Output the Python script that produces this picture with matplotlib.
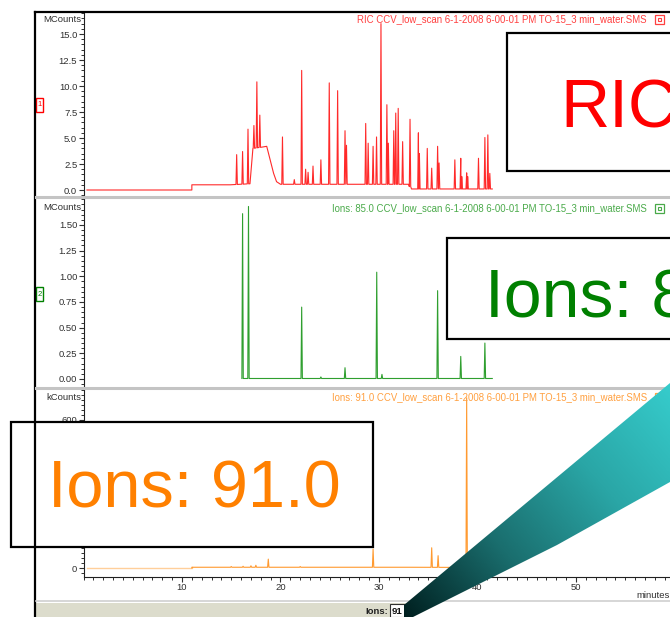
import numpy as np
import matplotlib.pyplot as plt
from matplotlib.patches import Rectangle, Polygon
from matplotlib.ticker import MultipleLocator, FormatStrFormatter
from matplotlib.colors import LinearSegmentedColormap

plt.rcParams['font.family'] = ['Liberation Sans', 'DejaVu Sans']

# ---- data (retention time in minutes) ----
# RIC, MCounts
ric_base_t = [0.35, 11.0, 11.0, 14.9, 16.9, 17.2, 18.6, 19.3, 19.6, 20.0, 33.0, 33.3, 41.5]
ric_base_v = [0.0, 0.0, 0.5, 0.5, 0.6, 4.0, 4.2, 1.6, 0.8, 0.55, 0.55, 0.1, 0.1]
ric_peak_t = [15.55, 16.15, 16.7, 17.3, 17.6, 17.9, 20.2, 21.4, 22.15, 22.55, 22.8, 23.3,
              24.1, 24.95, 25.8, 26.55, 26.7, 28.65, 28.9, 29.4, 29.75, 30.2, 30.8, 30.95,
              31.5, 31.7, 31.95, 32.4, 33.15, 34.0, 34.1, 34.9, 35.35, 35.95, 36.1, 37.7,
              38.3, 38.4, 38.9, 39.0, 40.1, 40.75, 41.05, 41.25]
ric_peak_v = [3.4, 3.7, 5.85, 6.2, 10.4, 7.2, 5.1, 1.0, 11.5, 2.0, 1.7, 2.3,
              2.9, 10.3, 9.55, 5.7, 4.3, 6.4, 4.5, 4.2, 5.1, 16.0, 8.2, 4.5,
              5.7, 7.4, 7.85, 4.65, 6.8, 5.5, 3.5, 4.0, 2.1, 4.2, 2.6, 2.9,
              3.05, 1.3, 1.65, 1.3, 3.05, 5.05, 5.3, 1.6]

# Ion 85, MCounts
ion85_base_t = [0.35, 41.5]
ion85_base_v = [0.005, 0.005]
ion85_peak_t = [16.15, 16.75, 22.15, 24.1, 26.55, 29.77, 30.3, 35.95, 38.3, 40.75]
ion85_peak_v = [1.61, 1.68, 0.70, 0.02, 0.11, 1.04, 0.045, 0.86, 0.22, 0.35]

# Ion 91, kCounts
ion91_base_t = [0.35, 11.0, 11.0, 33.0, 41.5]
ion91_base_v = [0.0, 0.0, 3.0, 3.0, 2.0]
ion91_peak_t = [15.0, 16.2, 17.0, 17.5, 18.76, 22.0, 29.4, 35.35, 36.0, 38.9]
ion91_peak_v = [6, 7, 9, 11, 36, 6, 77, 82, 50, 690]

titles = ["RIC CCV_low_scan 6-1-2008 6-00-01 PM TO-15_3 min_water.SMS",
          "Ions: 85.0 CCV_low_scan 6-1-2008 6-00-01 PM TO-15_3 min_water.SMS",
          "Ions: 91.0 CCV_low_scan 6-1-2008 6-00-01 PM TO-15_3 min_water.SMS"]
ric_ticks = [0, 2.5, 5, 7.5, 10, 12.5, 15]
ion85_ticks = [0, 0.25, 0.5, 0.75, 1.0, 1.25, 1.5]
ion91_ticks = [0, 100, 200, 300, 400, 500, 600]
ion91_labels = ['0', '', '', '', '', '', '600']   # 100-500 sit under the callout box
x_ticks = [10, 20, 30, 40, 50]

W, H = 670, 617
X0, PXMIN = 83.5, 9.85          # x pixel of t=0, pixels per minute
fig = plt.figure(figsize=(W / 100, H / 100), dpi=100)


def trace(bt, bv, pt, pv, hw=0.07):
    t = list(bt)
    v = list(bv)
    for a, h in zip(pt, pv):
        b = np.interp(a, bt, bv)
        t += [a - hw, a, a + hw]
        v += [b, h, b]
    o = np.argsort(t, kind='stable')
    return np.array(t)[o], np.array(v)[o]


def panel(top, bottom, zero_px, px_per_unit, ticks, fmt):
    ax = fig.add_axes([X0 / W, 1 - bottom / H, (W - X0) / W, (bottom - top) / H])
    ax.set_xlim(0, (W - X0) / PXMIN)
    ax.set_ylim((zero_px - bottom) / px_per_unit, (zero_px - top) / px_per_unit)
    for s in ['top', 'right', 'bottom']:
        ax.spines[s].set_visible(False)
    ax.spines['left'].set_color('#202020')
    ax.set_yticks(ticks)
    ax.yaxis.set_major_formatter(FormatStrFormatter(fmt))
    ax.yaxis.set_minor_locator(MultipleLocator(ticks[1] / 5))
    ax.tick_params(axis='y', which='major', length=3.5, width=0.8, labelsize=6.8,
                   colors='#303030', pad=1)
    ax.tick_params(axis='y', which='minor', length=2, width=0.7, colors='#303030')
    ax.tick_params(axis='x', which='both', bottom=False, labelbottom=False)
    return ax


# RIC panel
ax1 = panel(13, 196, 190, 10.4, ric_ticks, '%.1f')
t, v = trace(ric_base_t, ric_base_v, ric_peak_t, ric_peak_v)
ax1.plot(t, v, color='#ff2a2a', lw=0.8)

# Ion 85 panel
ax2 = panel(199, 387, 379, 102.7, ion85_ticks, '%.2f')
t, v = trace(ion85_base_t, ion85_base_v, ion85_peak_t, ion85_peak_v)
ax2.plot(t[t <= 11], v[t <= 11], color='#a8dca8', lw=1.0)
ax2.plot(t[t >= 11], v[t >= 11], color='#2f9f2f', lw=0.8)

# Ion 91 panel
ax3 = panel(390, 577, 568, 0.2467, ion91_ticks, '%d')
ax3.set_yticklabels(ion91_labels)
t, v = trace(ion91_base_t, ion91_base_v, ion91_peak_t, ion91_peak_v)
ax3.plot(t[t <= 11], v[t <= 11], color='#ffcf9a', lw=1.0)
ax3.plot(t[t >= 11], v[t >= 11], color='#ff9a30', lw=0.8)
ax3.spines['bottom'].set_visible(True)
ax3.spines['bottom'].set_color('#202020')
ax3.set_xticks(x_ticks)
ax3.xaxis.set_minor_locator(MultipleLocator(1))
ax3.tick_params(axis='x', which='major', bottom=True, labelbottom=True, length=3.5,
                width=0.8, labelsize=6.8, colors='#303030', pad=1)
ax3.tick_params(axis='x', which='minor', bottom=True, length=2, width=0.7, colors='#303030')

# ---- overlay in pixel coordinates ----
ov = fig.add_axes([0, 0, 1, 1], zorder=10)
ov.patch.set_alpha(0)
ov.axis('off')

# window frame, separators, status bar
ov.plot([35, 35], [617, 12], color='black', lw=1.6)
ov.plot([35, 670], [12, 12], color='black', lw=1.6)
for y in [197, 388]:
    ov.plot([36, 82.7], [y, y], color='#c4c4c4', lw=2.2)
    ov.plot([84.3, 670], [y, y], color='#c4c4c4', lw=2.2)
ov.plot([36, 670], [601, 601], color='#d0d0d0', lw=1.2)
ov.add_patch(Rectangle((36, 603), 374, 14, facecolor='#dcdccc', edgecolor='none'))
ov.text(388, 611, 'Ions:', ha='right', va='center', fontsize=6.8, fontweight='bold', color='#202020')
ov.add_patch(Rectangle((390, 603.5), 17, 13, facecolor='white', edgecolor='#303030', lw=0.8))
ov.text(392, 611, '91', ha='left', va='center', fontsize=6.8, fontweight='bold', color='#101010')
ov.text(670, 596, 'minutes', ha='right', va='center', fontsize=6.8, color='#303030')

# unit labels, panel titles, small icons
colors = ['#ff4040', '#4aaa4a', '#ffa040']
for y, unit, title, c in zip([19, 208, 397], ['MCounts', 'MCounts', 'kCounts'], titles, colors):
    ov.text(81, y, unit, ha='right', va='center', fontsize=6.8, color='#303030')
    ov.text(647, y, title, ha='right', va='center', fontsize=6.9, color=c)
    ov.add_patch(Rectangle((655, y - 4.5), 9, 9, facecolor='white', edgecolor=c, lw=0.9))
    ov.add_patch(Rectangle((658, y - 1.5), 3, 3, facecolor='none', edgecolor=c, lw=0.8))
ov.add_patch(Rectangle((36, 97.5), 7, 14, facecolor='white', edgecolor='#ff0000', lw=1.0))
ov.text(39.5, 105, '1', ha='center', va='center', fontsize=5.5, color='#ff0000')
ov.add_patch(Rectangle((36, 286.5), 7, 14, facecolor='white', edgecolor='#008000', lw=1.0))
ov.text(39.5, 294, '2', ha='center', va='center', fontsize=5.5, color='#008000')

# big callout boxes
ov.add_patch(Rectangle((507, 33), 180, 138, facecolor='white', edgecolor='black', lw=1.6))
ov.text(560, 127, 'RIC', ha='left', va='baseline', fontsize=49, color='#ff0000')
ov.add_patch(Rectangle((447, 238), 240, 101, facecolor='white', edgecolor='black', lw=1.6))
ov.text(485, 317, 'Ions: 85.0', ha='left', va='baseline', fontsize=49, color='#008000')
ov.add_patch(Rectangle((11, 422), 362, 125, facecolor='white', edgecolor='black', lw=1.6))
ov.text(48, 508, 'Ions: 91.0', ha='left', va='baseline', fontsize=48, color='#ff8000')

# teal pointer wedge with gradient
wedge = Polygon([(404, 605), (670, 383), (670, 482), (557, 545), (413, 617), (404, 617)],
                closed=True, facecolor='none', edgecolor='none')
ov.add_patch(wedge)
gx, gy = np.meshgrid(np.linspace(400, 670, 300), np.linspace(380, 617, 300))
g = ((gx - 670) * -265 + (gy - 383) * 234) / (265 ** 2 + 234 ** 2)
cmap = LinearSegmentedColormap.from_list('teal', ['#36cccc', '#2aa6a6', '#1a6e6e', '#002020'])
im = ov.imshow(g, extent=(400, 670, 617, 380), cmap=cmap, vmin=0, vmax=1,
               aspect='auto', interpolation='bilinear', zorder=5)
im.set_clip_path(wedge)

ov.set_xlim(0, W)
ov.set_ylim(H, 0)

fig.savefig('out.png', dpi=100)
